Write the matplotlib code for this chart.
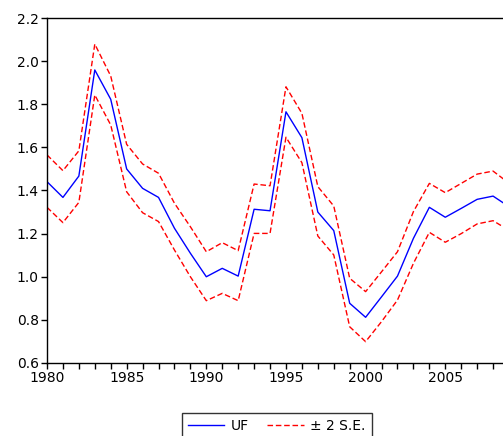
import matplotlib
matplotlib.use("Agg")
import matplotlib.pyplot as plt
from matplotlib.ticker import MultipleLocator

years = list(range(1980, 2010))
uf = [1.441, 1.368, 1.467, 1.959, 1.823, 1.500, 1.410, 1.368, 1.225, 1.109,
      1.000, 1.039, 1.003, 1.313, 1.306, 1.765, 1.645, 1.300, 1.214, 0.877,
      0.812, 0.907, 1.003, 1.178, 1.322, 1.276, 1.317, 1.359, 1.374, 1.325]
upper = [1.565, 1.492, 1.584, 2.079, 1.931, 1.614, 1.523, 1.480, 1.341, 1.232,
         1.116, 1.158, 1.121, 1.430, 1.422, 1.881, 1.758, 1.418, 1.328, 0.993,
         0.931, 1.023, 1.116, 1.302, 1.433, 1.390, 1.433, 1.476, 1.490, 1.434]
lower = [1.322, 1.251, 1.345, 1.843, 1.704, 1.394, 1.297, 1.256, 1.124, 1.000,
         0.889, 0.923, 0.889, 1.201, 1.201, 1.647, 1.529, 1.189, 1.101, 0.768,
         0.699, 0.792, 0.892, 1.062, 1.206, 1.160, 1.200, 1.245, 1.260, 1.215]

W, H = 503, 436
fig = plt.figure(figsize=(W/100, H/100), dpi=100)
left_px, right_px, top_px, bot_px = 47, 509, 18, 363
ax = fig.add_axes([left_px/W, (H-bot_px)/H, (right_px-left_px)/W, (bot_px-top_px)/H])

l1, = ax.plot(years, uf, color='#0000ff', lw=1.0, label='UF')
l2, = ax.plot(years, upper, color='#ff0000', lw=1.0, ls=(0, (4, 2)), label='± 2 S.E.')
ax.plot(years, lower, color='#ff0000', lw=1.0, ls=(0, (4, 2)))

ax.set_xlim(1980, 2009)
ax.set_ylim(0.6, 2.2)
ax.xaxis.set_major_locator(MultipleLocator(5))
ax.xaxis.set_minor_locator(MultipleLocator(1))
ax.yaxis.set_major_locator(MultipleLocator(0.2))
ax.yaxis.set_major_formatter(matplotlib.ticker.FormatStrFormatter('%.1f'))
ax.tick_params(axis='both', which='both', direction='out', length=4, width=1,
               labelsize=10, colors='black', pad=2)
for s in ax.spines.values():
    s.set_linewidth(1.0)
    s.set_color('black')

leg = fig.legend(handles=[l1, l2], loc='upper center',
                 bbox_to_anchor=(277/W, 1 - 413/H), borderaxespad=0,
                 ncol=2, frameon=True,
                 fancybox=False, edgecolor='black', fontsize=10,
                 handlelength=2.6, columnspacing=1.3, handletextpad=0.5,
                 borderpad=0.45)
leg.get_frame().set_linewidth(1.0)

fig.savefig('out.png', dpi=100)
